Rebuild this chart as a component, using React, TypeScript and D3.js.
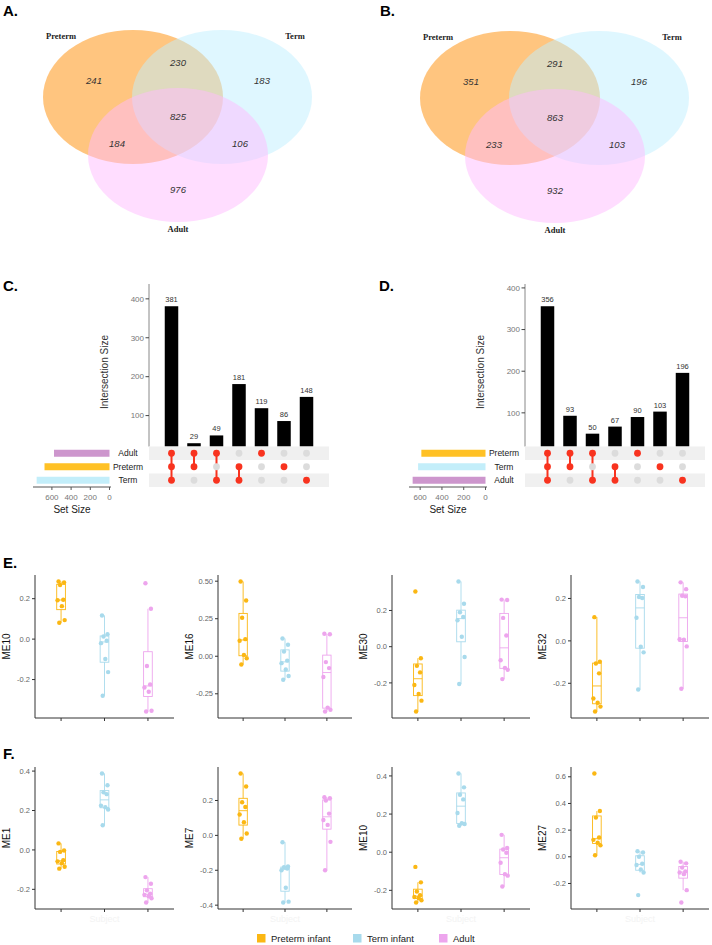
import * as d3 from "d3";

const SANS = "'Liberation Sans', Arial, Helvetica, sans-serif";
const SERIF = "'Liberation Serif', 'Times New Roman', serif";

// ---- Venn (A, B) ----
const vennSets = ["Preterm", "Term", "Adult"];
// regions: Preterm only, Preterm&Term, Term only, all three, Preterm&Adult, Term&Adult, Adult only
const vennA = [241, 230, 183, 825, 184, 106, 976];
const vennB = [351, 291, 196, 863, 233, 103, 932];

// ---- UpSet (C, D) ----
const upsetCSets = ["Adult", "Preterm", "Term"];
const upsetCCounts = [381, 29, 49, 181, 119, 86, 148];
const upsetCMembers = [[1, 1, 1], [1, 1, 0], [1, 0, 1], [0, 1, 1], [1, 0, 0], [0, 1, 0], [0, 0, 1]];

const upsetDSets = ["Preterm", "Term", "Adult"];
const upsetDCounts = [356, 93, 50, 67, 90, 103, 196];
const upsetDMembers = [[1, 1, 1], [1, 1, 0], [1, 0, 1], [0, 1, 1], [1, 0, 0], [0, 1, 0], [0, 0, 1]];

const setColors: Record<string, string> = { Adult: "#CD96CD", Preterm: "#FFC125", Term: "#C3EEFA" };

// ---- module eigengenes (E, F) ----
const groups = ["Preterm infant", "Term infant", "Adult"];
const groupColors = ["#FBB713", "#A8DAEC", "#EDA5ED"];

const me10E = [
  [0.285, 0.28, 0.268, 0.195, 0.192, 0.163, 0.094, 0.081],
  [0.117, 0.024, 0.013, -0.008, -0.02, -0.098, -0.163, -0.28],
  [0.276, 0.15, -0.133, -0.224, -0.239, -0.26, -0.354, -0.358],
];
const me16E = [
  [0.498, 0.371, 0.257, 0.114, 0.103, 0.009, -0.013, -0.055],
  [0.118, 0.077, 0.031, -0.029, -0.046, -0.088, -0.132, -0.156],
  [0.15, 0.147, -0.039, -0.079, -0.138, -0.342, -0.357, -0.368],
];
const me30E = [
  [0.305, -0.064, -0.106, -0.142, -0.212, -0.261, -0.298, -0.358],
  [0.36, 0.237, 0.19, 0.164, 0.146, 0.055, -0.057, -0.206],
  [0.26, 0.258, 0.159, 0.062, -0.075, -0.117, -0.128, -0.179],
];
const me32E = [
  [0.112, -0.098, -0.107, -0.153, -0.272, -0.292, -0.31, -0.333],
  [0.28, 0.254, 0.207, 0.202, 0.109, -0.028, -0.054, -0.229],
  [0.276, 0.244, 0.213, 0.21, 0.008, 0.005, -0.026, -0.226],
];
const me1F = [
  [0.033, -0.003, -0.01, -0.052, -0.058, -0.067, -0.085, -0.095],
  [0.388, 0.328, 0.292, 0.283, 0.225, 0.217, 0.205, 0.125],
  [-0.138, -0.172, -0.205, -0.222, -0.228, -0.235, -0.245, -0.267],
];
const me7F = [
  [0.355, 0.28, 0.19, 0.163, 0.12, 0.075, 0.011, -0.019],
  [-0.039, -0.178, -0.183, -0.19, -0.2, -0.3, -0.38, -0.385],
  [0.219, 0.213, 0.2, 0.125, 0.088, 0.06, -0.037, -0.2],
];
const me10F = [
  [-0.077, -0.158, -0.206, -0.226, -0.235, -0.24, -0.252, -0.264],
  [0.413, 0.34, 0.301, 0.277, 0.206, 0.152, 0.148, 0.139],
  [0.091, 0.022, 0.014, -0.003, -0.055, -0.115, -0.123, -0.18],
];
const me27F = [
  [0.625, 0.343, 0.294, 0.145, 0.127, 0.105, 0.086, 0.012],
  [0.042, 0.032, 0.0, -0.052, -0.062, -0.095, -0.118, -0.287],
  [-0.037, -0.049, -0.081, -0.11, -0.118, -0.13, -0.25, -0.343],
];

const ticks3 = [-0.2, 0, 0.2];
const ticksME16 = [-0.25, 0, 0.25, 0.5];
const ticksME1 = [-0.2, 0, 0.2, 0.4];
const ticksME7 = [-0.4, -0.2, 0, 0.2];
const ticksME27 = [-0.2, 0, 0.2, 0.4, 0.6];

// fixed horizontal jitter pattern (px) for the points
const jitter = [-2.5, 3, -1, 2.2, -3.5, 0.8, 3.6, -1.8];

function Venn({ ox, oy, counts, tag }: any) {
  const ell = [
    { cx: 133, cy: 97, fill: "#FF8C00" },
    { cx: 222, cy: 97, fill: "#BFEFFF" },
    { cx: 178, cy: 155, fill: "#FFBBFF" },
  ];
  const numPos = [[94, 81], [178, 63], [262, 81], [178, 117], [117, 144], [240, 144], [178, 190]];
  const labPos = [[61, 36], [295, 36], [178, 229]];
  return (
    <g>
      <text x={ox + 3} y={16} fontFamily={SANS} fontWeight="bold" fontSize={15}>{tag}</text>
      <g transform={`translate(${ox},${oy})`}>
        {ell.map((e, i) => (
          <ellipse key={i} cx={e.cx} cy={e.cy} rx={90} ry={67} fill={e.fill} fillOpacity={0.5} />
        ))}
        {counts.map((c: number, i: number) => (
          <text key={i} x={numPos[i][0]} y={numPos[i][1]} dy="0.35em" textAnchor="middle"
            fontFamily={SANS} fontStyle="italic" fontSize={9.5} fill="#333">{c}</text>
        ))}
        {vennSets.map((s, i) => (
          <text key={s} x={labPos[i][0]} y={labPos[i][1]} dy="0.35em" textAnchor="middle"
            fontFamily={SERIF} fontWeight="bold" fontSize={8.5} fill="#222">{s}</text>
        ))}
      </g>
    </g>
  );
}

function Upset({ ox, sets, counts, members, tag }: any) {
  const axisX = ox + 149;
  const matTop = 446.5;
  const matBot = 487;
  const xCol = d3.scalePoint<number>().domain(d3.range(counts.length)).range([axisX, ox + 329]).padding(1);
  const y = d3.scaleLinear().domain([0, (d3.max(counts) as number) * 1.15]).range([454.5, 284]);
  const row = d3.scaleBand<string>().domain(sets).range([matTop, matBot]);
  const rc = (s: string) => (row(s) as number) + row.bandwidth() / 2;
  const sizes = sets.map((_: string, i: number) => d3.sum(counts.filter((_c: number, j: number) => members[j][i])));
  const xs = d3.scaleLinear().domain([0, (d3.max(sizes) as number) * 1.05]).range([ox + 109.5, ox + 33]);
  const bw = xCol.step() * 0.6;
  return (
    <g fontFamily={SANS}>
      <text x={ox + 3} y={291} fontWeight="bold" fontSize={15}>{tag}</text>
      {/* intersection bars */}
      {counts.map((c: number, i: number) => (
        <g key={i}>
          <rect x={(xCol(i) as number) - bw / 2} y={y(c)} width={bw} height={matTop - y(c)} fill="#000" />
          <text x={xCol(i)} y={y(c) - 4} textAnchor="middle" fontSize={7.5} fill="#333">{c}</text>
        </g>
      ))}
      <line x1={axisX} x2={axisX} y1={284} y2={matTop} stroke="#888" strokeWidth={1} />
      {[100, 200, 300, 400].map((t) => (
        <g key={t}>
          <line x1={axisX - 3.5} x2={axisX} y1={y(t)} y2={y(t)} stroke="#444" />
          <text x={axisX - 5} y={y(t)} dy="0.35em" textAnchor="end" fontSize={8} fill="#777">{t}</text>
        </g>
      ))}
      <text transform={`translate(${ox + 108},372) rotate(-90)`} textAnchor="middle" fontSize={10} fill="#333">
        Intersection Size
      </text>
      {/* matrix */}
      {sets.map((s: string, i: number) => (
        <rect key={s} x={axisX} y={row(s)} width={180} height={row.bandwidth()} fill={i % 2 === 0 ? "#F0F0F0" : "#fff"} />
      ))}
      {counts.map((_c: number, j: number) => {
        const on = sets.filter((_s: string, i: number) => members[j][i]);
        const ys = on.map(rc);
        return (
          <g key={j}>
            {on.length > 1 && (
              <line x1={xCol(j)} x2={xCol(j)} y1={d3.min(ys)} y2={d3.max(ys)} stroke="#F8331F" strokeWidth={2} />
            )}
            {sets.map((s: string, i: number) => (
              <circle key={s} cx={xCol(j)} cy={rc(s)} r={3.4} fill={members[j][i] ? "#F8331F" : "#DCDCDC"} />
            ))}
          </g>
        );
      })}
      {/* set sizes */}
      {sets.map((s: string, i: number) => (
        <g key={s}>
          <rect x={xs(sizes[i])} y={rc(s) - 3.5} width={xs(0) - xs(sizes[i])} height={7} fill={setColors[s]} />
          <text x={ox + 128} y={rc(s)} dy="0.35em" textAnchor="middle" fontSize={8.5} fill="#222">{s}</text>
        </g>
      ))}
      <line x1={ox + 33} x2={ox + 111} y1={matBot} y2={matBot} stroke="#555" />
      {[0, 200, 400, 600].map((t) => (
        <g key={t}>
          <line x1={xs(t)} x2={xs(t)} y1={matBot} y2={matBot + 3} stroke="#555" />
          <text x={xs(t)} y={matBot + 10} dy="0.35em" textAnchor="middle" fontSize={8} fill="#777">{t}</text>
        </g>
      ))}
      <text x={ox + 72} y={matBot + 22} dy="0.35em" textAnchor="middle" fontSize={10} fill="#222">Set Size</text>
    </g>
  );
}

function BoxPanel({ x0, x1, y0, y1, name, data, ticks, digits, subject }: any) {
  const all = data.flat();
  const [lo, hi] = d3.extent(all) as [number, number];
  const pad = (hi - lo) * 0.05;
  const y = d3.scaleLinear().domain([lo - pad, hi + pad]).range([y1, y0]);
  const x = d3.scalePoint<string>().domain(groups).range([x0, x1]).padding(0.6);
  const bw = x.step() * 0.2;
  return (
    <g fontFamily={SANS}>
      {data.map((vals: number[], gi: number) => {
        const s = [...vals].sort(d3.ascending);
        const q1 = d3.quantile(s, 0.25) as number;
        const med = d3.quantile(s, 0.5) as number;
        const q3 = d3.quantile(s, 0.75) as number;
        const iqr = q3 - q1;
        const wLo = d3.min(s.filter((v) => v >= q1 - 1.5 * iqr)) as number;
        const wHi = d3.max(s.filter((v) => v <= q3 + 1.5 * iqr)) as number;
        const cx = x(groups[gi]) as number;
        const col = groupColors[gi];
        return (
          <g key={gi}>
            <line x1={cx} x2={cx} y1={y(wHi)} y2={y(q3)} stroke={col} strokeWidth={0.9} />
            <line x1={cx} x2={cx} y1={y(q1)} y2={y(wLo)} stroke={col} strokeWidth={0.9} />
            <rect x={cx - bw / 2} y={y(q3)} width={bw} height={y(q1) - y(q3)} fill="none" stroke={col} strokeWidth={0.9} />
            <line x1={cx - bw / 2} x2={cx + bw / 2} y1={y(med)} y2={y(med)} stroke={col} strokeWidth={0.9} />
            {vals.map((v, k) => (
              <circle key={k} cx={cx + jitter[k % jitter.length]} cy={y(v)} r={2.2} fill={col} />
            ))}
          </g>
        );
      })}
      <line x1={x0} x2={x0} y1={y0} y2={y1} stroke="#333" strokeWidth={1} />
      <line x1={x0} x2={x1} y1={y1} y2={y1} stroke="#333" strokeWidth={1} />
      {ticks.map((t: number) => (
        <g key={t}>
          <line x1={x0 - 3} x2={x0} y1={y(t)} y2={y(t)} stroke="#333" />
          <text x={x0 - 5} y={y(t)} dy="0.35em" textAnchor="end" fontSize={7.5} fill="#666">{t.toFixed(digits)}</text>
        </g>
      ))}
      {groups.map((g) => (
        <line key={g} x1={x(g)} x2={x(g)} y1={y1} y2={y1 + 3} stroke="#333" />
      ))}
      <text transform={`translate(${x0 - 25},${(y0 + y1) / 2}) rotate(-90)`} textAnchor="middle" fontSize={10} fill="#111">
        {name}
      </text>
      {subject && (
        <text x={(x0 + x1) / 2} y={y1 + 13} textAnchor="middle" fontSize={9} fill="#f3f3f3">Subject</text>
      )}
    </g>
  );
}

export default function App() {
  const cols = [[35, 174], [218, 352], [392, 530], [571, 709]];
  const rowE = [575, 718];
  const rowF = [767, 909];
  const ePanels = [
    { name: "ME10", data: me10E, ticks: ticks3, digits: 1 },
    { name: "ME16", data: me16E, ticks: ticksME16, digits: 2 },
    { name: "ME30", data: me30E, ticks: ticks3, digits: 1 },
    { name: "ME32", data: me32E, ticks: ticks3, digits: 1 },
  ];
  const fPanels = [
    { name: "ME1", data: me1F, ticks: ticksME1, digits: 1 },
    { name: "ME7", data: me7F, ticks: ticksME7, digits: 1 },
    { name: "ME10", data: me10F, ticks: ticksME1, digits: 1 },
    { name: "ME27", data: me27F, ticks: ticksME27, digits: 1 },
  ];
  const legendX = [257, 353, 439];
  return (
    <svg width={712} height={945} style={{ position: "absolute", left: 0, top: 0, background: "#fff" }}>
      <Venn ox={0} oy={0} counts={vennA} tag="A." />
      <Venn ox={377} oy={1} counts={vennB} tag="B." />
      <Upset ox={0} sets={upsetCSets} counts={upsetCCounts} members={upsetCMembers} tag="C." />
      <Upset ox={376} sets={upsetDSets} counts={upsetDCounts} members={upsetDMembers} tag="D." />
      <text x={3} y={568} fontFamily={SANS} fontWeight="bold" fontSize={15}>E.</text>
      <text x={3} y={759} fontFamily={SANS} fontWeight="bold" fontSize={15}>F.</text>
      {ePanels.map((p, i) => (
        <BoxPanel key={"e" + i} x0={cols[i][0]} x1={cols[i][1]} y0={rowE[0]} y1={rowE[1]} {...p} />
      ))}
      {fPanels.map((p, i) => (
        <BoxPanel key={"f" + i} x0={cols[i][0]} x1={cols[i][1]} y0={rowF[0]} y1={rowF[1]} subject {...p} />
      ))}
      <g fontFamily={SANS}>
        {groups.map((g, i) => (
          <g key={g}>
            <rect x={legendX[i]} y={934} width={8.5} height={8.5} fill={groupColors[i]} />
            <text x={legendX[i] + 14} y={938.5} dy="0.35em" fontSize={9.5} fill="#222">{g}</text>
          </g>
        ))}
      </g>
    </svg>
  );
}
